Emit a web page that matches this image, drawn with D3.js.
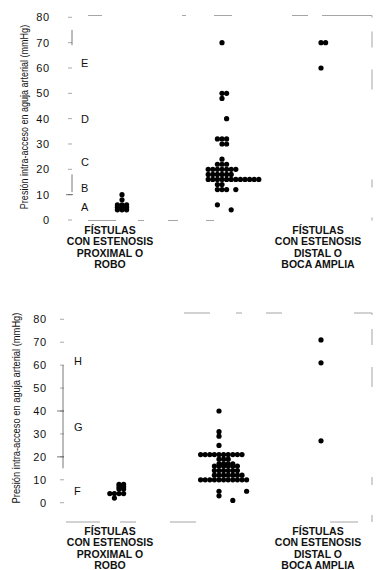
<!DOCTYPE html>
<html>
<head>
<meta charset="UTF-8">
<title>Presión intra-acceso</title>
<script src="https://d3js.org/d3.v7.min.js"></script>
<style>
  body { margin: 0; background: #fff; }
  text { font-family: "Liberation Sans", Arial, sans-serif; fill: #111; }
</style>
</head>
<body>
<svg width="386" height="570"></svg>
<script>
// ---- data ----
const groups = ["proximal", "intermedio", "distal"];
const yTicks = [0, 10, 20, 30, 40, 50, 60, 70, 80];
const yTitle = "Presión intra-acceso en aguja arterial (mmHg)";
const proximalLabel = ["FÍSTULAS", "CON ESTENOSIS", "PROXIMAL O", "ROBO"];
const distalLabel = ["FÍSTULAS", "CON ESTENOSIS", "DISTAL O", "BOCA AMPLIA"];

// each row: [value, column slots of the dots in that row]
const topProximal = [[10, [0]], [8, [0]], [6, [-1, 0, 1]], [5, [-1, 0, 1]], [4, [-1, 0, 1]]];
const topMiddle = [
  [70, [0]], [50, [0, 1]], [48, [0]], [40, [1]],
  [32, [-1, 0, 1]], [30, [0, 1]], [24, [0]], [22, [-1, 0, 1]],
  [20, [-3, -2, -1, 0, 1, 2, 3]], [18, [-3, -2, -1, 0, 1, 2]],
  [16, [-3, -2, -1, 0, 1, 2, 3, 4, 5, 6, 7, 8]],
  [14, [-1, 0]], [12, [-1, 0, 1, 3]], [6, [-1]], [4, [2]]
];
const topDistal = [[70, [0, 1]], [60, [0]]];
const topZones = ["A", "B", "C", "D", "E"];
const topZoneAt = [5, 12.5, 23, 40, 62];

const bottomProximal = [[8, [0, 1]], [7, [0, 1]], [6, [0, 1]], [4, [-2, -1, 0, 1]], [2, [-1]]];
const bottomMiddle = [
  [40, [0]], [31, [0]], [29, [0]], [25, [0]],
  [21, [-4, -3, -2, -1, 0, 1, 2, 3, 4, 5]], [19, [0, 1, 2]], [17, [0, 1, 2, 3]],
  [16, [-1, 0, 1, 2, 3, 4]], [14, [-1, 0, 1, 2, 3, 4]], [12, [-1, 0, 1, 2, 3, 4, 5]],
  [10, [-4, -3, -2, -1, 0, 1, 2, 3, 4, 5, 6]],
  [5, [0, 6]], [3, [0]], [1, [3]]
];
const bottomDistal = [[71, [0]], [61, [0]], [27, [0]]];
const bottomZones = ["F", "G", "H"];
const bottomZoneAt = [5, 33, 62];

const svg = d3.select("svg");

function drawPanel(p) {
  const g = svg.append("g");
  const y = d3.scaleLinear().domain([0, 80]).range([p.y0, p.y80]);
  const x = d3.scalePoint().domain(groups).range(p.xRange);
  const slot = d3.scaleLinear().domain([0, 1]).range([0, 4.6]);

  // broken frame of the scan
  const frame = g.append("g").attr("fill", "none").attr("stroke", "#a5a5a5").attr("stroke-width", 1);
  frame.append("line").attr("x1", p.frameLeft).attr("x2", 372).attr("y1", p.frameTop).attr("y2", p.frameTop)
    .attr("stroke-dasharray", p.dashTop);
  frame.append("line").attr("x1", 372).attr("x2", 372).attr("y1", p.frameTop).attr("y2", p.frameBottom)
    .attr("stroke-dasharray", "2,14,16,22,20,90,8,30,12,40");
  frame.append("line").attr("x1", p.frameLeft).attr("x2", 372).attr("y1", p.frameBottom).attr("y2", p.frameBottom)
    .attr("stroke-dasharray", p.dashBottom);

  // y axis labels
  const axis = d3.axisLeft(y).tickValues(yTicks).tickSize(0).tickPadding(0);
  const ax = g.append("g").attr("transform", `translate(${p.labelX},0)`).call(axis);
  ax.select(".domain").remove();
  ax.selectAll("text")
    .style("font-size", "11px").style("letter-spacing", "0.8px")
    .style("font-family", '"Liberation Sans", Arial, sans-serif')
    .attr("fill", "#333");

  // little tick marks
  g.append("g").selectAll("line").data(yTicks).join("line")
    .attr("x1", p.tickX).attr("x2", p.tickX + 4)
    .attr("y1", d => y(d)).attr("y2", d => y(d))
    .attr("stroke", "#aaa");

  // zone brackets
  g.append("g").selectAll("line").data(p.brackets).join("line")
    .attr("x1", p.bracketX).attr("x2", p.bracketX)
    .attr("y1", d => y(d[0])).attr("y2", d => y(d[1]))
    .attr("stroke", "#555").attr("stroke-width", 0.8);
  g.append("g").selectAll("line").data(p.bracketTicks).join("line")
    .attr("x1", p.bracketX - 6).attr("x2", p.bracketX + 1)
    .attr("y1", d => y(d)).attr("y2", d => y(d))
    .attr("stroke", "#555").attr("stroke-width", 0.8);

  // zone letters
  g.append("g").selectAll("text").data(p.zones).join("text")
    .attr("x", p.zoneX).attr("y", (d, i) => y(p.zoneAt[i]) + 4)
    .style("font-size", "11px").attr("fill", "#333").text(d => d);

  // y title (the scan is a bit condensed along the text)
  g.append("text")
    .attr("transform", `translate(${p.titleX},${p.titleY}) rotate(-90) scale(${p.titleScale},1)`)
    .attr("text-anchor", "middle")
    .style("font-size", "11px").text(yTitle);

  // dots
  const dots = [];
  p.series.forEach((rows, gi) => {
    rows.forEach(([v, cols]) => cols.forEach(c => dots.push({ g: groups[gi], v, c, off: p.offsets[gi] })));
  });
  g.append("g").selectAll("circle").data(dots).join("circle")
    .attr("cx", d => x(d.g) + d.off + slot(d.c))
    .attr("cy", d => y(d.v))
    .attr("r", 2.6)
    .attr("fill", "#000");

  // category labels
  [[proximalLabel, p.labelCenters[0]], [distalLabel, p.labelCenters[1]]].forEach(([lines, cx]) => {
    g.append("g").selectAll("text").data(lines).join("text")
      .attr("x", cx).attr("y", (d, i) => p.catY + i * 11.3)
      .attr("text-anchor", "middle")
      .style("font-size", "10.5px").style("font-weight", "bold")
      .text(d => d);
  });
}

drawPanel({
  y0: 220, y80: 17.3, xRange: [122, 321], offsets: [0, 0.5, 0],
  series: [topProximal, topMiddle, topDistal],
  labelX: 50, tickX: 68,
  frameTop: 15.5, frameBottom: 220.5, frameLeft: 88,
  dashTop: "14,40,0,40,4,28,18,60,16", dashBottom: "28,22,6,24,10,28,8,200",
  brackets: [[11, 18], [69, 75]], bracketTicks: [10], bracketX: 72,
  zones: topZones, zoneAt: topZoneAt, zoneX: 81,
  titleX: 28, titleY: 117, titleScale: 0.82,
  labelCenters: [110, 318], catY: 234
});

drawPanel({
  y0: 502.7, y80: 319.3, xRange: [119, 321], offsets: [0, -1, 0],
  series: [bottomProximal, bottomMiddle, bottomDistal],
  labelX: 47, tickX: 60,
  frameTop: 313, frameBottom: 522, frameLeft: 66,
  dashTop: "0,118,26,26,6,24,16,72,16", dashBottom: "34,20,16,34,26,134,28",
  brackets: [[15, 60]], bracketTicks: [20, 40], bracketX: 63,
  zones: bottomZones, zoneAt: bottomZoneAt, zoneX: 74,
  titleX: 20, titleY: 408, titleScale: 0.85,
  labelCenters: [110, 318], catY: 535
});
</script>
</body>
</html>
